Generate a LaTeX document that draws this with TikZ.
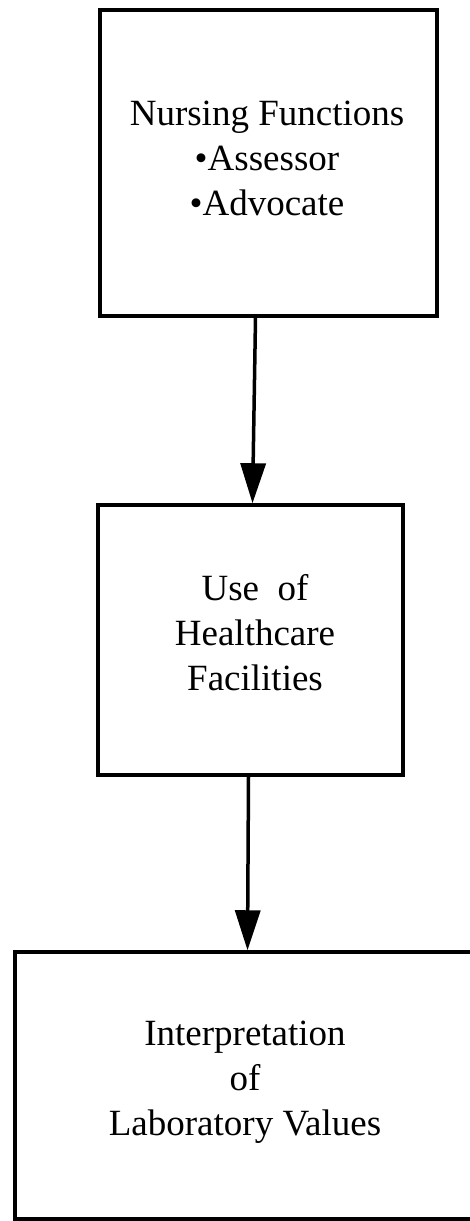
\documentclass[tikz,border=0pt]{standalone}
\usepackage{fontspec}
\setmainfont{Liberation Serif}
\usetikzlibrary{arrows.meta}
\begin{document}
\begin{tikzpicture}[x=1pt,y=-1pt,
  box/.style={draw, line width=3.5pt, rectangle, inner sep=0pt},
  txt/.style={inner sep=0pt, align=center, font=\fontsize{37}{45}\selectfont},
  arr/.style={line width=3.5pt, -{Triangle[width=25pt,length=40pt]}}]
\useasboundingbox (0,0) rectangle (470,1221);
\clip (0,0) rectangle (470,1221);
\node[box, minimum width=337pt, minimum height=306pt] (b1) at (268.5,163) {};
\node[txt] (t1) at (267,158) {Nursing Functions\\ \textbullet Assessor\\ \textbullet Advocate};
\node[box, minimum width=305pt, minimum height=270pt] (b2) at (250.5,640) {};
\node[txt] (t2) at (255,633) {Use~ of\\ Healthcare\\ Facilities};
\node[box, minimum width=505pt, minimum height=267pt] (b3) at (267.5,1085.5) {};
\node[txt] (t3) at (245,1082) {Interpretation\\ of\\ Laboratory Values};
\draw[arr] ([xshift=-13pt]b1.south) -- ([xshift=2pt]b2.north);
\draw[arr] ([xshift=-2pt]b2.south) -- ([xshift=-20pt]b3.north);
\end{tikzpicture}
\end{document}
